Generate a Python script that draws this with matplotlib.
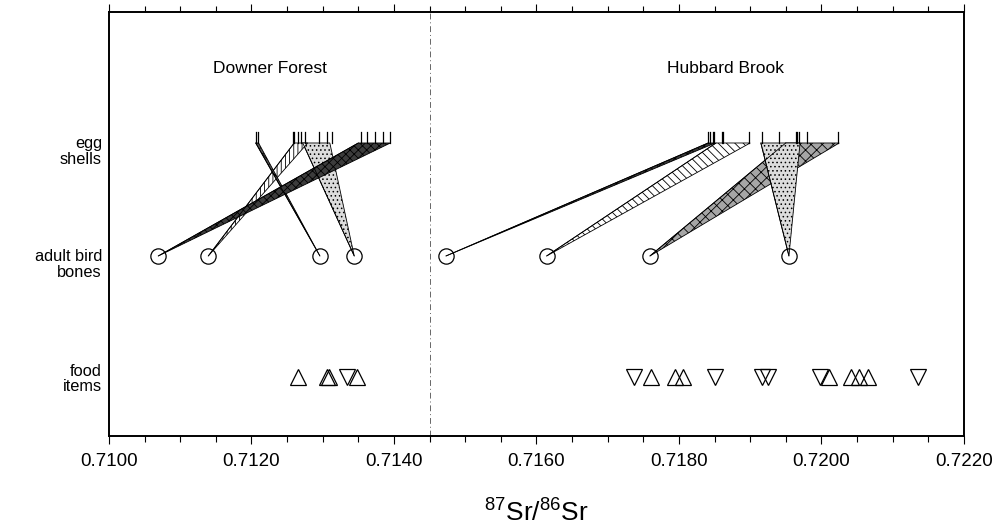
import matplotlib
matplotlib.use("Agg")
import matplotlib.pyplot as plt
from matplotlib.patches import Polygon
from matplotlib.ticker import MultipleLocator

plt.rcParams['font.family'] = ['Liberation Sans', 'DejaVu Sans']
plt.rcParams['mathtext.fontset'] = 'custom'
plt.rcParams['mathtext.rm'] = 'Liberation Sans'
plt.rcParams['hatch.linewidth'] = 0.6

# ---- data ----
row_labels = ["egg\nshells", "adult bird\nbones", "food\nitems"]
region_names = ["Downer Forest", "Hubbard Brook"]
region_label_x = [0.71226, 0.71865]
site_divider = 0.7145

egg_downer = [0.712063, 0.712098, 0.712582, 0.712604, 0.712660, 0.712695, 0.712751,
              0.712947, 0.713060, 0.713137, 0.713544, 0.713621, 0.713733, 0.713846, 0.713944]
egg_hubbard = [0.718411, 0.718442, 0.718473, 0.718491, 0.718599, 0.718622, 0.718987,
               0.719161, 0.719404, 0.719642, 0.719660, 0.719688, 0.719801, 0.720236]

bones_downer = [0.710692, 0.711394, 0.712961, 0.713443]
bones_hubbard = [0.714730, 0.716143, 0.717593, 0.719544]

# egg-shell ranges linked to each bird (low, high)
fan_lo_downer = [0.71350, 0.71260, 0.71206, 0.71272]
fan_hi_downer = [0.71395, 0.71279, 0.71210, 0.71310]
fan_lo_hubbard = [0.71841, 0.71852, 0.71950, 0.71915]
fan_hi_hubbard = [0.71851, 0.71900, 0.72025, 0.71970]

food_up = [0.712657, 0.713055, 0.713092, 0.713485,
           0.717611, 0.717944, 0.718056, 0.720109, 0.720410, 0.720531, 0.720657]
food_down = [0.713336,
             0.717368, 0.718505, 0.719161, 0.719249, 0.719979, 0.721358]

x_ticks = [0.7100, 0.7120, 0.7140, 0.7160, 0.7180, 0.7200, 0.7220]
x_tick_labels = ["0.7100", "0.7120", "0.7140", "0.7160", "0.7180", "0.7200", "0.7220"]

# ---- layout (axes fraction rows) ----
Y_EGG_BASE = 0.691
Y_EGG_TOP = 0.718
Y_BONE = 0.4245
Y_FOOD = 0.139
Y_LABELS = [0.6745, 0.408, 0.139]

fig = plt.figure(figsize=(10.07, 5.27), dpi=100)
ax = fig.add_axes([0.1082, 0.1727, 0.849, 0.8046])
ax.set_xlim(0.7100, 0.7220)
ax.set_ylim(0, 1)

# fan styles: (facecolor, hatch)
styles_downer = [("#3c3c3c", "xxxx"), ("white", "||||"), ("#555555", "xxxx"), ("#dcdcdc", "....")]
styles_hubbard = [("#3c3c3c", "xxxx"), ("white", "\\\\\\\\"), ("#a6a6a6", "xxx"), ("#dcdcdc", "....")]
order_downer = [3, 1, 2, 0]
order_hubbard = [0, 1, 2, 3]

def draw_fans(bones, lo, hi, styles, order):
    for i in order:
        fc, h = styles[i]
        poly = Polygon([(bones[i], Y_BONE), (lo[i], Y_EGG_BASE), (hi[i], Y_EGG_BASE)],
                       closed=True, facecolor=fc, edgecolor="black", hatch=h,
                       linewidth=0.6, zorder=2)
        ax.add_patch(poly)
        ax.plot([bones[i], lo[i]], [Y_BONE, Y_EGG_BASE], color="black", lw=0.6, zorder=3)

draw_fans(bones_downer, fan_lo_downer, fan_hi_downer, styles_downer, order_downer)
draw_fans(bones_hubbard, fan_lo_hubbard, fan_hi_hubbard, styles_hubbard, order_hubbard)

# egg shell ticks
for v in egg_downer + egg_hubbard:
    ax.plot([v, v], [Y_EGG_BASE, Y_EGG_TOP], color="black", lw=0.9, zorder=4)

# bones
bones_all = bones_downer + bones_hubbard
ax.plot(bones_all, [Y_BONE] * len(bones_all), linestyle="none", marker="o",
        markersize=11, markerfacecolor="none", markeredgecolor="black",
        markeredgewidth=0.9, zorder=5)

# food items
ax.plot(food_up, [Y_FOOD] * len(food_up), linestyle="none", marker="^",
        markersize=11, markerfacecolor="none", markeredgecolor="black",
        markeredgewidth=0.9, zorder=5)
ax.plot(food_down, [Y_FOOD] * len(food_down), linestyle="none", marker="v",
        markersize=11, markerfacecolor="none", markeredgecolor="black",
        markeredgewidth=0.9, zorder=5)

# divider
ax.axvline(site_divider, color="#666666", lw=0.7, linestyle=(0, (6, 3, 1, 3)), zorder=1)

# region labels
for name, xv in zip(region_names, region_label_x):
    ax.text(xv, 0.8656, name, ha="center", va="center", fontsize=12.5)

# axes styling
ax.set_xticks(x_ticks)
ax.set_xticklabels(x_tick_labels, fontsize=13.5)
ax.xaxis.set_minor_locator(MultipleLocator(0.0005))
ax.tick_params(axis="x", which="major", direction="out", length=6, width=0.8,
               top=True, pad=6)
ax.tick_params(axis="x", which="minor", direction="out", length=4, width=0.8, top=True)
ax.set_yticks(Y_LABELS)
ax.set_yticklabels(row_labels, fontsize=11.8, linespacing=1.05)
ax.tick_params(axis="y", length=0, pad=5)
for s in ax.spines.values():
    s.set_linewidth(1.4)

ax.set_xlabel(r"$^{\mathregular{87}}$Sr/$^{\mathregular{86}}$Sr", fontsize=19, labelpad=20)

fig.savefig("out.png", dpi=100)
